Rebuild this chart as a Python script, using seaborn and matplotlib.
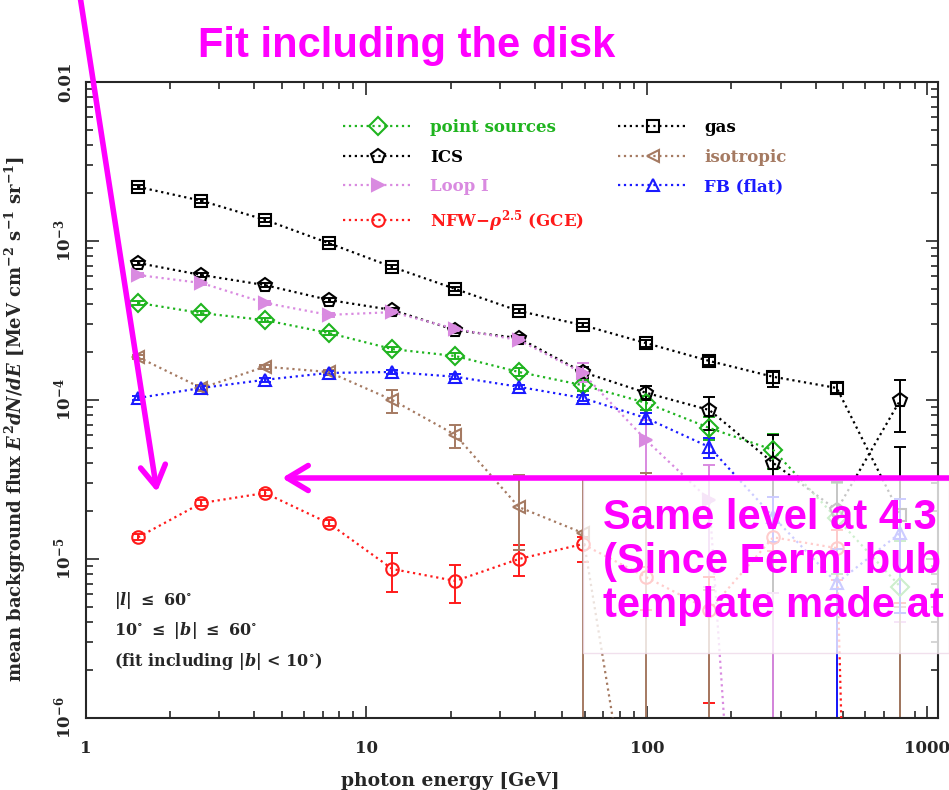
import matplotlib
matplotlib.use("Agg")
import matplotlib.pyplot as plt
from matplotlib.patches import Rectangle, FancyArrowPatch
from matplotlib.ticker import NullFormatter
import seaborn as sns
import numpy as np

# photon energy bins [GeV]
energy = [1.54, 2.59, 4.36, 7.35, 12.4, 20.8, 35.0, 59.0, 99.3, 167, 282, 475, 800]

# mean flux, with lower / upper ends of the error bars (1e-12 -> bar runs off the bottom)
ps_val = [4.08e-4, 3.52e-4, 3.18e-4, 2.64e-4, 2.09e-4, 1.89e-4, 1.50e-4, 1.24e-4, 9.6e-5, 6.67e-5, 4.85e-5, 1.8e-5, 6.7e-6]
ps_lo = [3.95e-4, 3.41e-4, 3.08e-4, 2.55e-4, 2.01e-4, 1.81e-4, 1.42e-4, 1.14e-4, 8.6e-5, 5.6e-5, 3.7e-5, 8e-6, 1e-12]
ps_hi = [4.21e-4, 3.63e-4, 3.28e-4, 2.73e-4, 2.17e-4, 1.97e-4, 1.58e-4, 1.34e-4, 1.06e-4, 7.8e-5, 6.1e-5, 3.0e-5, 1.3e-5]

ics_val = [7.27e-4, 6.11e-4, 5.28e-4, 4.26e-4, 3.68e-4, 2.75e-4, 2.45e-4, 1.50e-4, 1.11e-4, 8.65e-5, 4.02e-5, 2.03e-5, 1.0e-4]
ics_lo = [7.05e-4, 5.93e-4, 5.12e-4, 4.13e-4, 3.57e-4, 2.65e-4, 2.35e-4, 1.38e-4, 1.0e-4, 6.47e-5, 1e-12, 1e-12, 6.3e-5]
ics_hi = [7.49e-4, 6.29e-4, 5.44e-4, 4.39e-4, 3.79e-4, 2.85e-4, 2.55e-4, 1.62e-4, 1.22e-4, 1.05e-4, 6.0e-5, 3.05e-5, 1.34e-4]

loop_val = [6.11e-4, 5.44e-4, 4.08e-4, 3.43e-4, 3.57e-4, 2.80e-4, 2.38e-4, 1.48e-4, 5.6e-5, 2.35e-5, 2.5e-11, 1e-11, 1e-11]
loop_lo = [5.93e-4, 5.28e-4, 3.96e-4, 3.33e-4, 3.46e-4, 2.70e-4, 2.28e-4, 1.30e-4, 3.48e-5, 6.67e-6, 1e-12, 1e-11, 1e-12]
loop_hi = [6.29e-4, 5.60e-4, 4.20e-4, 3.53e-4, 3.68e-4, 2.90e-4, 2.48e-4, 1.71e-4, 7.48e-5, 3.9e-5, 6.1e-6, 1e-11, 4e-6]

nfw_val = [1.37e-5, 2.25e-5, 2.60e-5, 1.68e-5, 8.65e-6, 7.28e-6, 1.0e-5, 1.24e-5, 7.7e-6, 4.78e-6, 1.37e-5, 1.17e-5, 1e-20]
nfw_lo = [1.31e-5, 2.16e-5, 2.50e-5, 1.61e-5, 6.2e-6, 5.28e-6, 7.8e-6, 9.6e-6, 4.78e-6, 1.24e-6, 1.13e-5, 7.4e-6, 1e-20]
nfw_hi = [1.43e-5, 2.34e-5, 2.70e-5, 1.75e-5, 1.09e-5, 9.2e-6, 1.22e-5, 1.37e-5, 8.9e-6, 7.7e-6, 1.69e-5, 1.52e-5, 5.28e-6]

gas_val = [2.19e-3, 1.79e-3, 1.36e-3, 9.7e-4, 6.86e-4, 4.99e-4, 3.63e-4, 2.96e-4, 2.28e-4, 1.76e-4, 1.40e-4, 1.19e-4, 1.9e-5]
gas_lo = [2.12e-3, 1.74e-3, 1.32e-3, 9.4e-4, 6.65e-4, 4.84e-4, 3.52e-4, 2.87e-4, 2.17e-4, 1.65e-4, 1.21e-4, 1.11e-4, 1e-12]
gas_hi = [2.26e-3, 1.84e-3, 1.40e-3, 1.0e-3, 7.07e-4, 5.14e-4, 3.74e-4, 3.05e-4, 2.39e-4, 1.87e-4, 1.51e-4, 1.27e-4, 5.06e-5]

iso_val = [1.86e-4, 1.19e-4, 1.62e-4, 1.50e-4, 1.0e-4, 6.03e-5, 2.12e-5, 1.46e-5, 5.2e-8, 1e-9, 1e-9, 1e-9, 1e-9]
iso_lo = [1.80e-4, 1.14e-4, 1.57e-4, 1.45e-4, 8.28e-5, 4.99e-5, 1.14e-5, 1e-12, 1e-12, 1e-12, 1e-9, 1e-9, 1e-12]
iso_hi = [1.92e-4, 1.24e-4, 1.67e-4, 1.55e-4, 1.16e-4, 6.97e-5, 3.36e-5, 3.28e-5, 3.48e-5, 6.4e-6, 1e-9, 1e-9, 5e-6]

fb_val = [1.03e-4, 1.19e-4, 1.34e-4, 1.48e-4, 1.50e-4, 1.40e-4, 1.21e-4, 1.03e-4, 7.7e-5, 5.06e-5, 1.84e-5, 7.06e-6, 1.46e-5]
fb_lo = [1.0e-4, 1.15e-4, 1.30e-4, 1.44e-4, 1.45e-4, 1.35e-4, 1.17e-4, 9.8e-5, 7.1e-5, 4.3e-5, 1.27e-5, 1e-12, 4.6e-6]
fb_hi = [1.06e-4, 1.23e-4, 1.38e-4, 1.52e-4, 1.55e-4, 1.45e-4, 1.25e-4, 1.08e-4, 8.3e-5, 5.8e-5, 2.46e-5, 1.15e-5, 2.4e-5]

series = [
    ("point sources", ps_val, ps_lo, ps_hi, "#1fb41f", "D", False),
    ("ICS", ics_val, ics_lo, ics_hi, "black", "p", False),
    ("Loop I", loop_val, loop_lo, loop_hi, "#d98ae0", ">", True),
    (r"NFW$-\rho^{2.5}$ (GCE)", nfw_val, nfw_lo, nfw_hi, "#ff1a1a", "o", False),
    ("gas", gas_val, gas_lo, gas_hi, "black", "s", False),
    ("isotropic", iso_val, iso_lo, iso_hi, "#a57a62", "<", False),
    ("FB (flat)", fb_val, fb_lo, fb_hi, "#1a1aff", "^", False),
]

sns.set_style("ticks", {"xtick.direction": "in", "ytick.direction": "in"})
plt.rcParams["font.family"] = ["DejaVu Serif"]
plt.rcParams["font.weight"] = "bold"
plt.rcParams["mathtext.fontset"] = "custom"
plt.rcParams["mathtext.rm"] = "DejaVu Serif:bold"
plt.rcParams["mathtext.it"] = "DejaVu Serif:italic:bold"
plt.rcParams["mathtext.bf"] = "DejaVu Serif:bold"

fig = plt.figure(figsize=(9.49, 7.90), dpi=100)
ax = fig.add_axes([85.5 / 949, 1 - 718 / 790, (938 - 85.5) / 949, (718 - 82) / 790])
ax.set_xscale("log")
ax.set_yscale("log")

for name, val, lo, hi, col, mk, filled in series:
    val = np.array(val)
    yerr = [val - np.array(lo), np.array(hi) - val]
    ax.errorbar(energy, val, yerr=yerr, fmt="none", ecolor=col, elinewidth=1.4,
                capsize=4, capthick=1.4, zorder=2)
    sns.lineplot(x=energy, y=val, ax=ax, color=col, linestyle=":", linewidth=1.6,
                 marker=mk, markersize=10 if mk == "p" else 9,
                 markerfacecolor=col if filled else "none", markeredgecolor=col,
                 markeredgewidth=1.5, label=name, zorder=3)

ax.set_xlim(1, 1090)
ax.set_ylim(1e-6, 1e-2)
ax.set_xticks([1, 10, 100, 1000])
ax.set_xticklabels(["1", "10", "100", "1000"], fontsize=12)
ax.set_yticks([1e-6, 1e-5, 1e-4, 1e-3, 1e-2])
ax.set_yticklabels([r"$10^{-6}$", r"$10^{-5}$", r"$10^{-4}$", r"$10^{-3}$", "0.01"],
                   rotation=90, va="center", fontsize=12)
ax.xaxis.set_minor_formatter(NullFormatter())
ax.yaxis.set_minor_formatter(NullFormatter())
ax.tick_params(which="both", top=True, right=True, width=1.2)
ax.tick_params(which="major", length=9)
ax.tick_params(axis="x", which="major", pad=16)
ax.tick_params(axis="y", which="major", pad=8)
ax.tick_params(which="minor", length=5)
for sp in ax.spines.values():
    sp.set_linewidth(1.5)

ax.set_xlabel("photon energy [GeV]", fontsize=13.5, fontweight="bold")
ax.xaxis.set_label_coords(0.428, -0.085)
ax.set_ylabel(r"mean background flux $E^2dN/dE$ [MeV cm$^{-2}$ s$^{-1}$ sr$^{-1}$]",
              fontsize=13, fontweight="bold")
ax.yaxis.set_label_coords(-0.068, 0.47)

leg = ax.legend(loc="upper left", bbox_to_anchor=(0.285, 0.965), ncol=2, frameon=False,
                fontsize=12, handlelength=4.2, labelspacing=0.75, columnspacing=2.0,
                handletextpad=1.0, numpoints=1)
for txt, (_, _, _, _, col, _, _) in zip(leg.get_texts(), series):
    txt.set_color(col)

ax.text(0.033, 0.178, r"$|l|$ $\leq$ 60$^{\circ}$", transform=ax.transAxes, fontsize=11.5)
ax.text(0.033, 0.130, r"10$^{\circ}$ $\leq$ $|b|$ $\leq$ 60$^{\circ}$", transform=ax.transAxes, fontsize=11.5)
ax.text(0.033, 0.082, r"(fit including $|b|$ < 10$^{\circ}$)", transform=ax.transAxes, fontsize=11.5)

# magenta slide annotations
mag = "#ff00ff"
fig.text(407 / 949, 1 - 46 / 790, "Fit including the disk", color=mag, fontsize=30,
         fontweight="bold", family="Liberation Sans", ha="center", va="center")

fig.patches.append(Rectangle((583 / 949, 1 - 653 / 790), 1 - 583 / 949, (653 - 480) / 790,
                             transform=fig.transFigure, facecolor="white", alpha=0.78,
                             edgecolor="#eed8e8", linewidth=1.0, zorder=1))
for i, line in enumerate(["Same level at 4.3", "(Since Fermi bub", "template made at"]):
    fig.text(603 / 949, 1 - (518 + 44 * i) / 790, line, color=mag, fontsize=30,
             fontweight="bold", family="Liberation Sans", ha="left", va="center", zorder=4)

arr_style = "->,head_length=0.5,head_width=0.3"
fig.add_artist(FancyArrowPatch((80 / 949, 1 + 4 / 790), (157 / 949, 1 - 492 / 790),
                               transform=fig.transFigure, arrowstyle=arr_style,
                               mutation_scale=30, color=mag, lw=4, shrinkA=0, shrinkB=0, zorder=5))
fig.add_artist(FancyArrowPatch((952 / 949, 1 - 478 / 790), (282 / 949, 1 - 478 / 790),
                               transform=fig.transFigure, arrowstyle=arr_style,
                               mutation_scale=30, color=mag, lw=4, shrinkA=0, shrinkB=0, zorder=5))

fig.savefig("out.png", dpi=100)
